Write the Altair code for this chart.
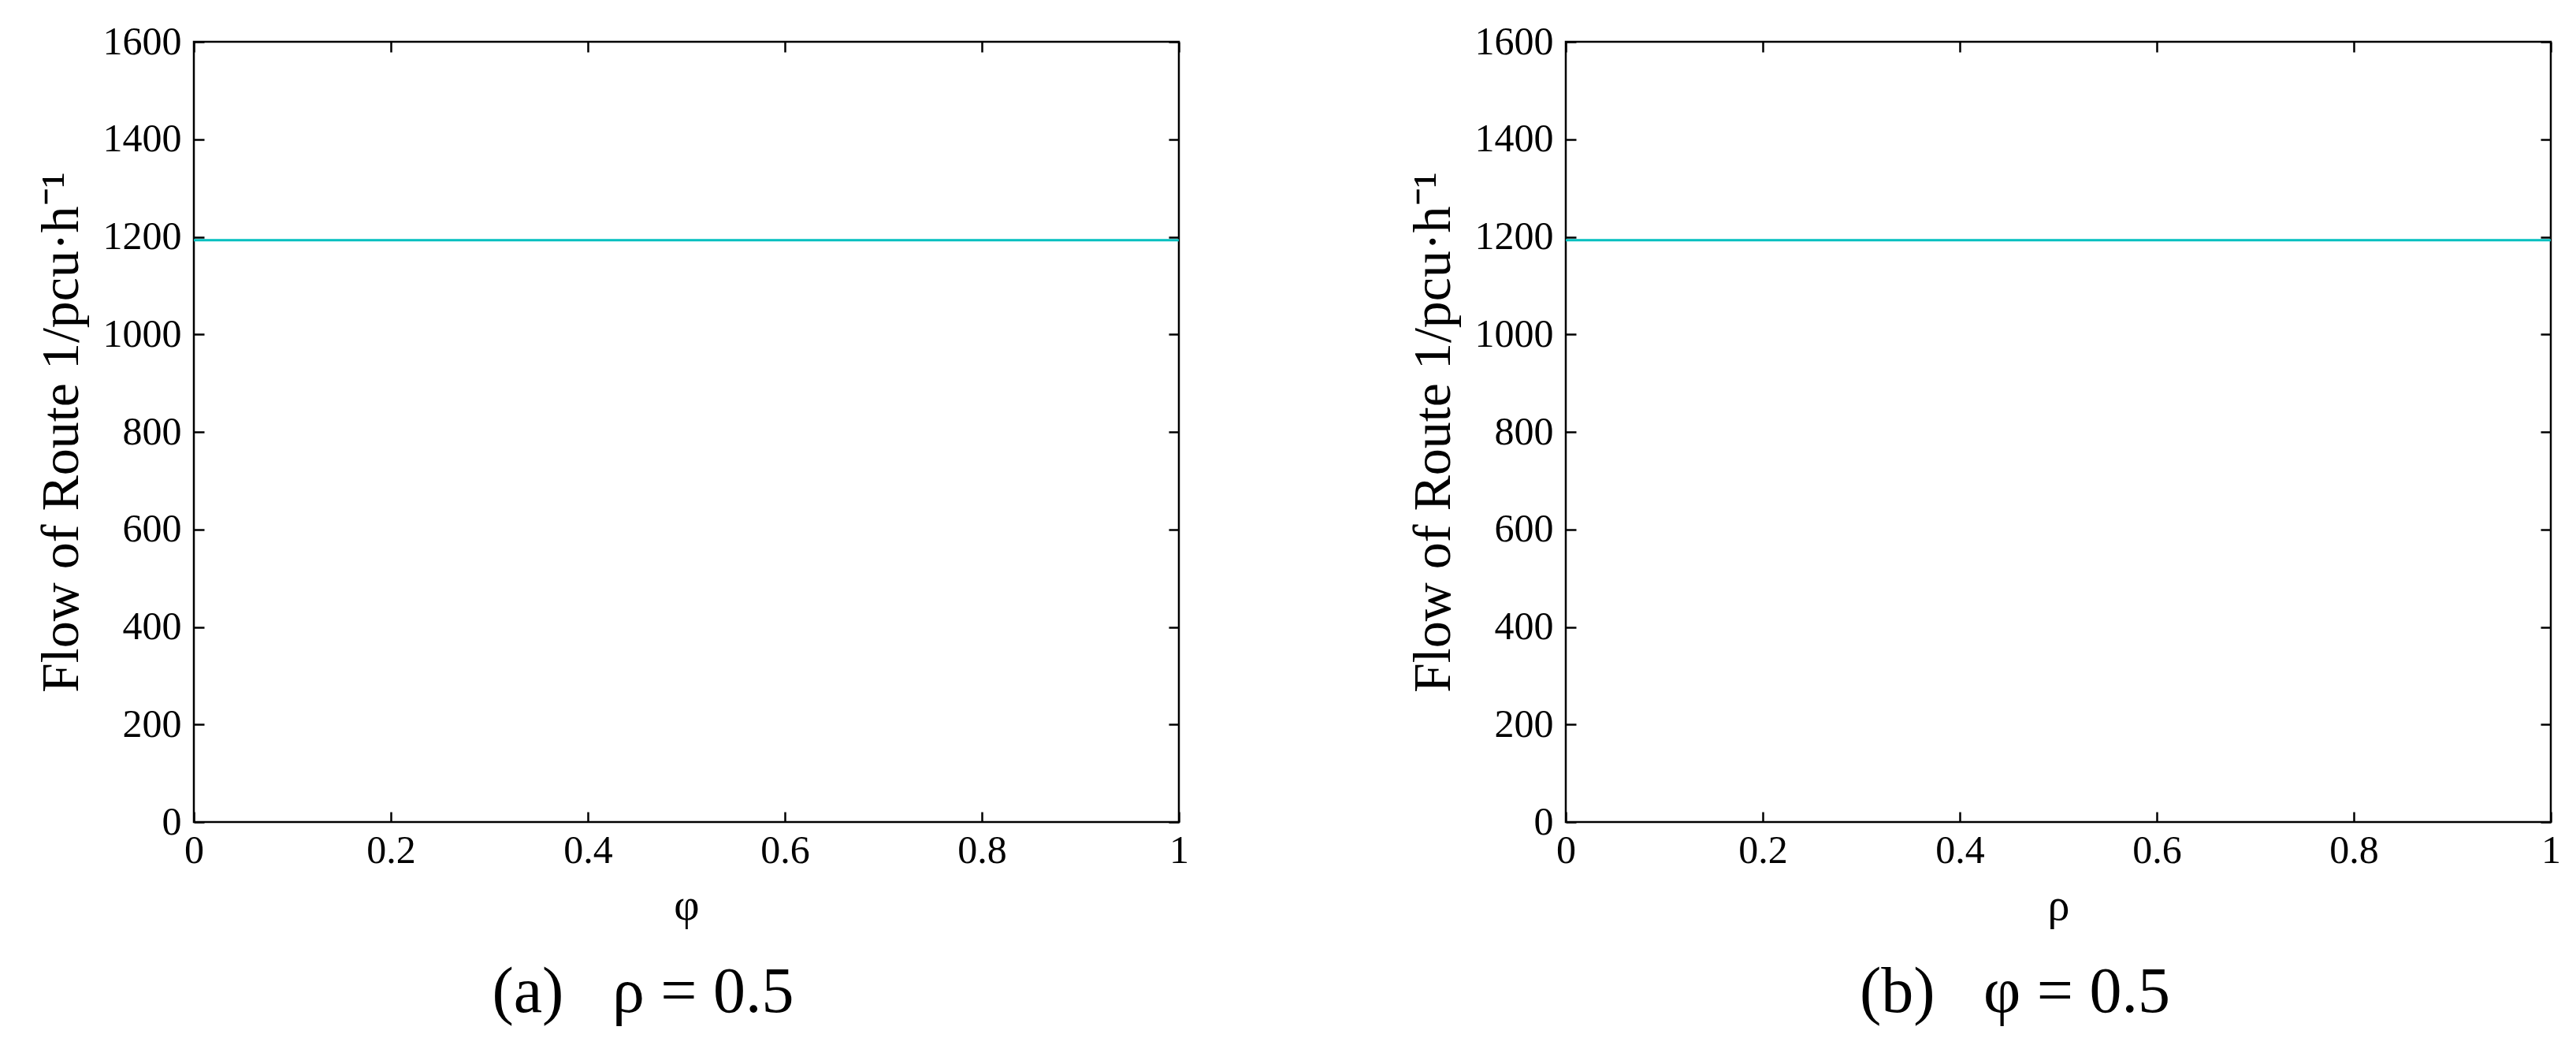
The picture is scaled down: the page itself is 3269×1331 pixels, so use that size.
import altair as alt
import pandas as pd

# ---- data ----
phi_vals = [0.0, 1.0]
flow_a = [1193, 1193]          # panel (a): rho = 0.5
rho_vals = [0.0, 1.0]
flow_b = [1193, 1193]          # panel (b): phi = 0.5

x_ticks = [0, 0.2, 0.4, 0.6, 0.8, 1]
y_ticks = [0, 200, 400, 600, 800, 1000, 1200, 1400, 1600]

y_title = "Flow of Route 1/pcu·h⁻¹"
NB = "\u00a0"
captions = [f"(a){NB*3}ρ{NB}={NB}0.5", f"(b){NB*3}φ{NB}={NB}0.5"]
x_titles = ["φ", "ρ"]

FONT = "Liberation Serif"
W, H = 1250, 990
LINE_COLOR = "#00BFBF"
TICK = alt.ExprRef(expr="-13")


def panel(xs, ys, xtitle, caption):
    df = pd.DataFrame({"x": xs, "y": ys})
    xscale = alt.Scale(domain=[0, 1], nice=False, zero=False)
    yscale = alt.Scale(domain=[0, 1600], nice=False)
    base = alt.Chart(df)
    main = base.mark_line(color=LINE_COLOR, strokeWidth=3).encode(
        x=alt.X("x:Q", scale=xscale, title=xtitle,
                axis=alt.Axis(orient="bottom", values=x_ticks, format="~g",
                              tickSize=TICK, labelPadding=24, labelFlush=False,
                              titlePadding=18, titleFontSize=56,
                              titleFontWeight="normal")),
        y=alt.Y("y:Q", scale=yscale, title=y_title,
                axis=alt.Axis(orient="left", values=y_ticks, format="d",
                              tickSize=TICK, labelPadding=29, labelFlush=False,
                              titlePadding=18, titleFontSize=68,
                              titleFontWeight="normal")),
    )
    mirror = base.mark_line(opacity=0).encode(
        x=alt.X("x:Q", scale=xscale,
                axis=alt.Axis(orient="top", values=x_ticks, labels=False,
                              title=None, tickSize=TICK)),
        y=alt.Y("y:Q", scale=yscale,
                axis=alt.Axis(orient="right", values=y_ticks, labels=False,
                              title=None, tickSize=TICK)),
    )
    return (
        alt.layer(main, mirror)
        .resolve_axis(x="independent", y="independent")
        .properties(
            width=W, height=H,
            title=alt.TitleParams(caption, orient="bottom", anchor="middle",
                                  fontSize=82, font=FONT, fontWeight="normal",
                                  color="black", offset=42, dx=-55),
        )
    )


chart = (
    alt.hconcat(
        panel(phi_vals, flow_a, x_titles[0], captions[0]),
        panel(rho_vals, flow_b, x_titles[1], captions[1]),
        spacing=273,
    )
    .properties(padding={"left": 34, "top": 18, "right": 5, "bottom": 5},
                background="white")
    .configure_view(stroke="black", strokeWidth=2.5)
    .configure_axis(
        domain=False,
        grid=False,
        tickColor="black",
        tickWidth=2.5,
        labelFont=FONT,
        labelFontSize=50,
        labelColor="black",
        titleFont=FONT,
        titleColor="black",
    )
)

chart.save("out.html", embed_options={"renderer": "svg", "actions": False})
